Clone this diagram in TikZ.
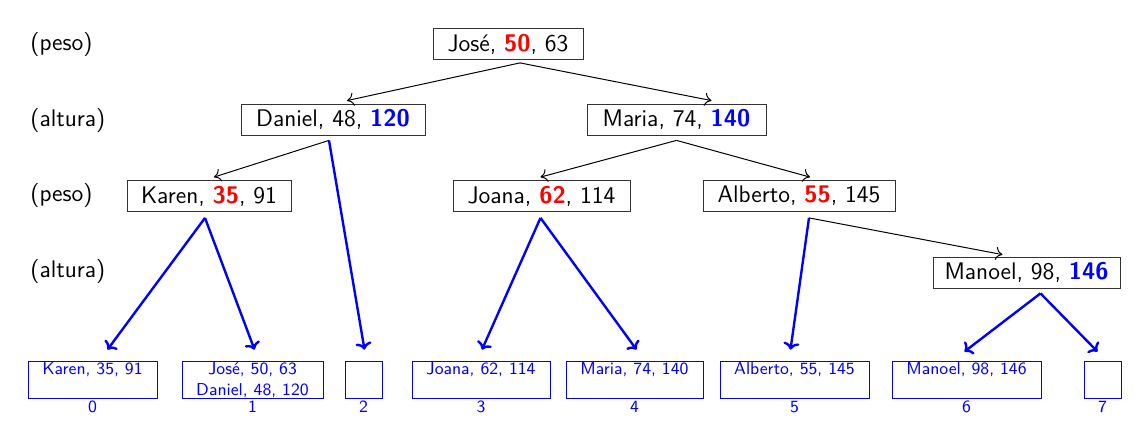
\documentclass[tikz,border=0pt]{standalone}
\usetikzlibrary{calc,arrows.meta}
\begin{document}
\begin{tikzpicture}[x=0.5pt,y=-0.5pt,
  tnode/.style={draw=black!80, thin, font=\sffamily\large, inner sep=0pt, minimum height=15.5pt},
  lvl/.style={font=\sffamily\large, anchor=west, inner sep=0pt},
  leafbox/.style={draw=blue, thin, inner sep=0pt, minimum height=18.5pt},
  leaftext/.style={font=\sffamily\fontsize{8.6}{10.5}\selectfont, text=blue, anchor=north, inner sep=0pt, align=center},
  idx/.style={font=\sffamily\fontsize{8.6}{10.5}\selectfont, text=blue, anchor=north, inner sep=0pt},
  tedge/.style={->, line width=0.5pt, >={To[length=3.4pt,width=6.6pt]}},
  ledge/.style={->, blue, line width=1.2pt, >={To[length=3.6pt,width=8pt]}}]
\useasboundingbox (0,0) rectangle (1148,432);
\newcommand{\R}[1]{\textcolor{red}{\textbf{#1}}}
\newcommand{\B}[1]{\textcolor{blue}{\textbf{#1}}}
% level labels
\node[lvl] (l1) at (30,45) {(peso)};
\node[lvl] (l2) at (30,121) {(altura)};
\node[lvl] (l3) at (30,196) {(peso)};
\node[lvl] (l4) at (30,272) {(altura)};
% tree nodes
\node[tnode, minimum width=75pt] (jose) at (508,44) {José, \R{50}, 63};
\node[tnode, minimum width=92pt] (daniel) at (333,119.5) {Daniel, 48, \B{120}};
\node[tnode, minimum width=89.5pt] (maria) at (676.5,119.5) {Maria, 74, \B{140}};
\node[tnode, minimum width=82pt] (karen) at (209,196) {Karen, \R{35}, 91};
\node[tnode, minimum width=88.5pt] (joana) at (541.5,196) {Joana, \R{62}, 114};
\node[tnode, minimum width=96pt] (alberto) at (799,196) {Alberto, \R{55}, 145};
\node[tnode, minimum width=93.5pt] (manoel) at (1026.5,272.5) {Manoel, 98, \B{146}};
% leaves
\node[leafbox, minimum width=64.5pt] (f0) at (92.5,379.5) {};
\node[leafbox, minimum width=70.5pt] (f1) at (252.5,379.5) {};
\node[leafbox, minimum width=18.5pt] (f2) at (363.5,379.5) {};
\node[leafbox, minimum width=69pt] (f3) at (481,379.5) {};
\node[leafbox, minimum width=68.5pt] (f4) at (634.5,379.5) {};
\node[leafbox, minimum width=74.5pt] (f5) at (794.5,379.5) {};
\node[leafbox, minimum width=74.5pt] (f6) at (966.5,379.5) {};
\node[leafbox, minimum width=18.5pt] (f7) at (1102.5,379.5) {};
\node[leaftext] (t0) at ($(f0.north)+(0,2)$) {Karen, 35, 91};
\node[leaftext] (t1) at ($(f1.north)+(0,2)$) {José, 50, 63\\Daniel, 48, 120};
\node[leaftext] (t3) at ($(f3.north)+(0,2)$) {Joana, 62, 114};
\node[leaftext] (t4) at ($(f4.north)+(0,2)$) {Maria, 74, 140};
\node[leaftext] (t5) at ($(f5.north)+(0,2)$) {Alberto, 55, 145};
\node[leaftext] (t6) at ($(f6.north)+(0,2)$) {Manoel, 98, 146};
\foreach \i in {0,...,7} {\node[idx] (i\i) at ($(f\i.south)+(0,2)$) {\i};}
% black edges
\draw[tedge] ($(jose.south)+(12,3)$) -- ($(daniel.north)+(14,-3)$);
\draw[tedge] ($(jose.south)+(12,3)$) -- ($(maria.north)+(35,-3)$);
\draw[tedge] ($(daniel.south)+(-4,5)$) -- ($(karen.north)+(5,-3)$);
\draw[tedge] ($(maria.south)+(0,5)$) -- ($(joana.north)+(-1,-3)$);
\draw[tedge] ($(maria.south)+(0,5)$) -- ($(alberto.north)+(11,-3)$);
\draw[tedge] ($(alberto.south)+(10,6)$) -- ($(manoel.north)+(-24,-2)$);
% blue edges
\draw[ledge] ($(daniel.south)+(-4,5)$) -- ($(f2.north)+(1,-11)$);
\draw[ledge] ($(karen.south)+(-4,6)$) -- ($(f0.north)+(15,-11)$);
\draw[ledge] ($(karen.south)+(-4,6)$) -- ($(f1.north)+(2,-11)$);
\draw[ledge] ($(joana.south)+(-1,6)$) -- ($(f3.north)+(1,-11)$);
\draw[ledge] ($(joana.south)+(-1,6)$) -- ($(f4.north)+(2,-11)$);
\draw[ledge] ($(alberto.south)+(10,6)$) -- ($(f5.north)+(-4,-11)$);
\draw[ledge] ($(manoel.south)+(14,5)$) -- ($(f6.north)+(-2,-9)$);
\draw[ledge] ($(manoel.south)+(14,5)$) -- ($(f7.north)+(-5,-9)$);
\end{tikzpicture}
\end{document}
